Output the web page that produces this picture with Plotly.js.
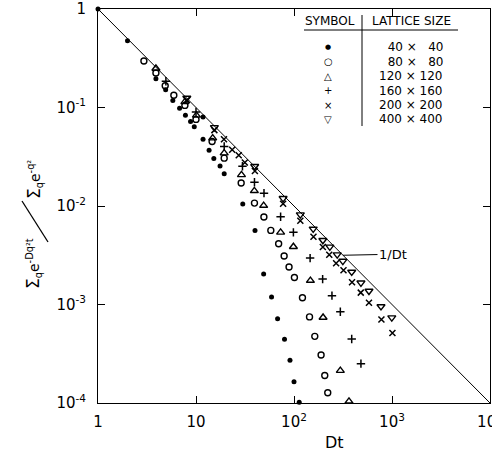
<!DOCTYPE html>
<html>
<head>
<meta charset="utf-8">
<script src="https://cdn.plot.ly/plotly-3.0.1.min.js"></script>
<style>html,body{margin:0;padding:0;background:#fff;}</style>
</head>
<body>
<div id="chart" style="width:492px;height:458px;"></div>
<script>
// ---- data ----
const dt40  = [1, 2, 3.9, 4.9, 5.8, 6.8, 7.8, 8.8, 9.6, 11.8, 11.8, 13.6, 15.2, 17.6, 19.4, 30, 40, 49, 59, 68, 80, 91, 100, 113];
const val40 = [1, 0.477, 0.196, 0.151, 0.118, 0.0984, 0.0832, 0.0719, 0.0636, 0.0803, 0.0475, 0.0369, 0.0303, 0.0254, 0.0212, 0.0105, 0.00564, 0.00204, 0.00119, 0.000718, 0.000443, 0.000271, 0.000164, 0.000102];

const dt80  = [2.94, 3.9, 4.85, 5.94, 7.7, 10, 14.6, 19.4, 28.9, 39.5, 49.3, 58, 69.7, 79.3, 89, 101, 122, 144, 163, 189, 206, 221];
const val80 = [0.297, 0.224, 0.166, 0.133, 0.105, 0.0757, 0.0451, 0.0306, 0.0171, 0.0107, 0.00773, 0.00565, 0.00414, 0.00311, 0.0024, 0.00188, 0.00117, 0.000748, 0.000475, 0.000307, 0.00019, 0.000127];

const dt120  = [3.9, 7.7, 10.1, 14.8, 19.4, 29.1, 39.4, 49, 73, 98.6, 147, 198, 297, 364];
const val120 = [0.249, 0.114, 0.0832, 0.0489, 0.0344, 0.0207, 0.01426, 0.0101, 0.0054, 0.00386, 0.00175, 0.000738, 0.000213, 0.000104];

const dt160  = [4.93, 10, 19.4, 29.8, 39.5, 49.4, 73, 98.6, 146, 196, 244, 297, 388, 482];
const val160 = [0.185, 0.0902, 0.0403, 0.0253, 0.0174, 0.0135, 0.00777, 0.0054, 0.00296, 0.00181, 0.00123, 0.000845, 0.000447, 0.000251];

const dt200  = [8.06, 15.4, 19.3, 23.4, 27.3, 31.5, 39.9, 77.4, 116, 158, 197, 229, 269, 320, 391, 480, 582, 780, 1010];
const val200 = [0.119, 0.0589, 0.0477, 0.0372, 0.0327, 0.0277, 0.0227, 0.01052, 0.00708, 0.00487, 0.00383, 0.0032, 0.00262, 0.00223, 0.00168, 0.00132, 0.00104, 0.000705, 0.000514];

const dt400  = [8.06, 15.4, 39.7, 77.4, 116, 157, 197, 232, 276, 315, 388, 482, 582, 772, 995];
const val400 = [0.125, 0.0628, 0.0253, 0.01197, 0.00818, 0.00585, 0.00449, 0.00385, 0.00321, 0.00276, 0.00214, 0.00166, 0.00137, 0.000955, 0.000735];

const lineDt  = [1, 10000];
const lineVal = [1, 0.0001];

const xTickVals = [1, 10, 100, 1000, 10000];
const xTickText = ['1', '10', '10<sup>2</sup>', '10<sup>3</sup>', '10<sup>4</sup>'];
const yTickVals = [1, 0.1, 0.01, 0.001, 0.0001];
const yTickText = ['1', '10<sup>-1</sup>', '10<sup>-2</sup>', '10<sup>-3</sup>', '10<sup>-4</sup>'];

const legendSymbols = ['●', '○', '△', '+', '×', '▽'];
const latticeSizes = ['\u00a0\u00a040 × \u00a0\u00a040', '\u00a0\u00a080 × \u00a0\u00a080', '120 × 120', '160 × 160', '200 × 200', '400 × 400'];

// ---- drawing ----
const K = '#000';
function pts(x, y, sym, size, lw) {
  return {x: x, y: y, type: 'scatter', mode: 'markers', cliponaxis: false,
    marker: {symbol: sym, size: size, color: K, line: {color: K, width: lw}}};
}
const traces = [
  {x: lineDt, y: lineVal, type: 'scatter', mode: 'lines', line: {color: K, width: 1}, cliponaxis: false},
  pts(dt40, val40, 'circle', 5, 0),
  pts(dt80, val80, 'circle-open', 6, 1.4),
  pts(dt120, val120, 'triangle-up-open', 7, 1.4),
  pts(dt160, val160, 'cross-thin-open', 6, 1.5),
  pts(dt200, val200, 'x-thin-open', 6, 1.5),
  pts(dt400, val400, 'triangle-down-open', 7, 1.4)
];

const L = 98, T = 9, W = 392, H = 394;
const px = v => (v - L) / W;
const py = v => (T + H - v) / H;

const annotations = [];
const shapes = [];
// 1/Dt label
annotations.push({x: 2.5, y: -2.5, xref: 'x', yref: 'y', text: '1/Dt', showarrow: true,
  arrowhead: 0, arrowwidth: 1, arrowcolor: K, ax: 50, ay: -1, standoff: 0,
  font: {size: 13, family: 'DejaVu Sans', color: K}});
// x title
annotations.push({xref: 'paper', yref: 'paper', x: px(334), y: py(442), text: 'Dt', showarrow: false,
  xanchor: 'center', yanchor: 'middle', font: {size: 16, family: 'DejaVu Sans', color: K}});
// y title: numerator / denominator with a long slash
annotations.push({xref: 'paper', yref: 'paper', x: px(33), y: py(264), textangle: -90,
  xanchor: 'center', yanchor: 'middle', showarrow: false,
  text: '<span style="font-size:17px">Σ</span><sub>q</sub>e<sup>-Dq²t</sup>',
  font: {size: 14, family: 'DejaVu Sans', color: K}});
annotations.push({xref: 'paper', yref: 'paper', x: px(35), y: py(179), textangle: -90,
  xanchor: 'center', yanchor: 'middle', showarrow: false,
  text: '<span style="font-size:17px">Σ</span><sub>q</sub>e<sup>-q²</sup>',
  font: {size: 14, family: 'DejaVu Sans', color: K}});
shapes.push({type: 'line', xref: 'paper', yref: 'paper', x0: px(22), y0: py(201), x1: px(48), y1: py(242),
  line: {color: K, width: 1.3}});
// legend table
const hdrY = 21;
annotations.push({xref: 'paper', yref: 'paper', x: px(330), y: py(hdrY), text: 'SYMBOL', showarrow: false,
  xanchor: 'center', yanchor: 'middle', font: {size: 12, family: 'DejaVu Sans', color: K}});
annotations.push({xref: 'paper', yref: 'paper', x: px(411), y: py(hdrY), text: 'LATTICE SIZE', showarrow: false,
  xanchor: 'center', yanchor: 'middle', font: {size: 12, family: 'DejaVu Sans', color: K}});
const rowY0 = 47.5, rowStep = 14.4;
legendSymbols.forEach((s, i) => {
  const yy = rowY0 + i * rowStep;
  annotations.push({xref: 'paper', yref: 'paper', x: px(328), y: py(yy), text: s, showarrow: false,
    xanchor: 'center', yanchor: 'middle', font: {size: i === 0 ? 7 : 10, family: 'DejaVu Sans', color: K}});
  annotations.push({xref: 'paper', yref: 'paper', x: px(445), y: py(yy), text: latticeSizes[i], showarrow: false,
    xanchor: 'right', yanchor: 'middle', font: {size: 12, family: 'DejaVu Sans', color: K}});
});
shapes.push({type: 'line', xref: 'paper', yref: 'paper', x0: px(304), x1: px(458), y0: py(30), y1: py(30), line: {color: K, width: 1}});
shapes.push({type: 'line', xref: 'paper', yref: 'paper', x0: px(362), x1: px(362), y0: py(15), y1: py(126), line: {color: K, width: 1}});

const axisCommon = {type: 'log', ticks: 'inside', ticklen: 7, tickcolor: K, tickwidth: 1,
  showline: true, linecolor: K, linewidth: 1, mirror: 'ticks', showgrid: false, zeroline: false,
  ticklabeloverflow: 'allow',
  tickfont: {size: 15, family: 'DejaVu Sans', color: K}};

const layout = {
  width: 492, height: 458, margin: {l: L, r: 2, t: T, b: 55},
  paper_bgcolor: '#fff', plot_bgcolor: '#fff', showlegend: false,
  font: {family: 'DejaVu Sans', color: K},
  xaxis: Object.assign({}, axisCommon, {range: [0, 4], tickvals: xTickVals, ticktext: xTickText,
    ticklabelstandoff: 5}),
  yaxis: Object.assign({}, axisCommon, {range: [-4, 0], tickvals: yTickVals, ticktext: yTickText,
    ticklabelstandoff: 8}),
  annotations: annotations,
  shapes: shapes
};

Plotly.newPlot('chart', traces, layout, {displayModeBar: false, staticPlot: true});
</script>
</body>
</html>
